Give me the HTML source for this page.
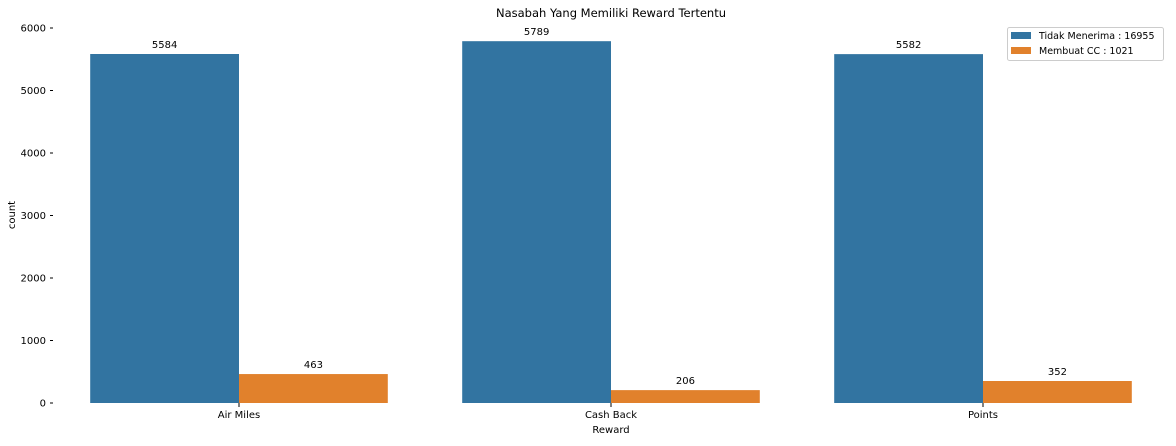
<!DOCTYPE html>
<html><head><meta charset="utf-8"><style>
body{margin:0;background:#fff;}
svg text{font-family:"DejaVu Sans","Liberation Sans",sans-serif;font-size:10px;fill:#000;}
svg .leg{font-size:9.5px;}
</style></head><body>
<svg width="1176" height="441">
<text x="611" y="17" text-anchor="middle" style="font-size:11.5px">Nasabah Yang Memiliki Reward Tertentu</text>
<g id="yaxis"></g>
<g id="xaxis"></g>
<g id="bars"></g>
<text x="15" y="215" text-anchor="middle" transform="rotate(-90 15 215)">count</text>
<text x="611" y="433" text-anchor="middle">Reward</text>
<g>
<rect x="1007.5" y="27.5" width="156" height="33" rx="2" fill="#fff" stroke="#ccc"/>
<rect x="1011" y="32" width="20" height="7" fill="#3274a1"/>
<text class="leg" x="1039" y="39">Tidak Menerima : 16955</text>
<rect x="1011" y="47" width="20" height="7" fill="#e1812c"/>
<text class="leg" x="1039" y="54">Membuat CC : 1021</text>
</g>
</svg>
<script>
const categories=["Air Miles","Cash Back","Points"];
const tidakValues=[5584,5789,5582];
const membuatValues=[463,206,352];
const yTicks=[0,1000,2000,3000,4000,5000,6000];
const colors=["#3274a1","#e1812c"];
const ns="http://www.w3.org/2000/svg";
const x0=53,x1=1169,y0=403,yTop=28,yMax=6000;
const band=(x1-x0)/categories.length;
const y=v=>y0-(v/yMax)*(y0-yTop);
const xc=i=>x0+band*(i+0.5);
function mk(tag,attrs,parent){const e=document.createElementNS(ns,tag);for(const k in attrs)e.setAttribute(k,attrs[k]);parent.appendChild(e);return e;}
const ya=document.getElementById('yaxis'),xa=document.getElementById('xaxis'),bg=document.getElementById('bars');
yTicks.forEach(t=>{
  const l=mk('line',{x1:50,x2:53,y1:y(t),y2:y(t),stroke:'#000','stroke-width':1},ya);
  
  
  const tx=mk('text',{x:46,y:y(t)+3.5,'text-anchor':'end'},ya);tx.textContent=t;
  
  
});
const bw=band*0.4;
categories.forEach((c,i)=>{
  const cx=xc(i);
  const l=mk('line',{x1:cx,x2:cx,y1:403,y2:407,stroke:'#000','stroke-width':1},xa);
  
  
  const tx=mk('text',{x:cx,y:418,'text-anchor':'middle'},xa);tx.textContent=c;
  
  
  [tidakValues[i],membuatValues[i]].forEach((v,s)=>{
    const bx=cx-bw+s*bw;
    const r=mk('rect',{x:bx,y:y(v),width:bw,height:y0-y(v),fill:colors[s]},bg);
    
    
    const lt=mk('text',{x:bx+bw/2,y:y(v)-6,'text-anchor':'middle'},bg);lt.textContent=v;
    
    
  });
});
</script>
</body></html>
